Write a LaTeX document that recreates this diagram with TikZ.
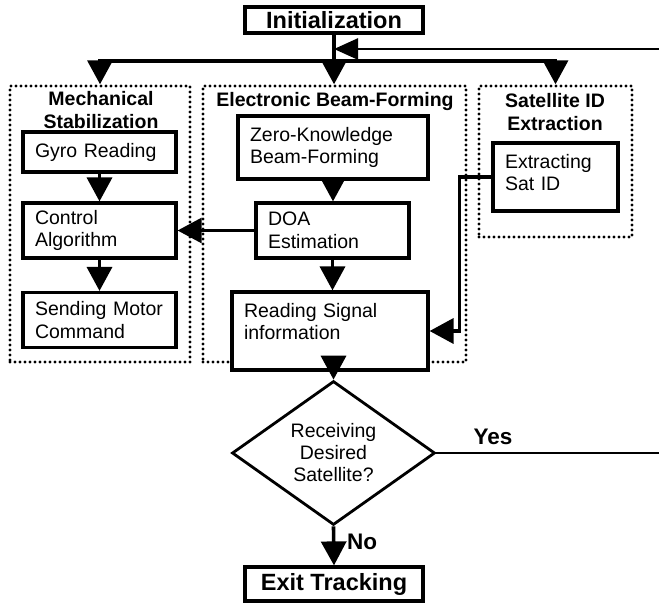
\documentclass[tikz,border=0pt]{standalone}
\usepackage{fontspec}
\setmainfont{Liberation Sans}
\usetikzlibrary{arrows.meta,shapes.geometric}
\newcommand{\lowdepth}[1]{\rule[-#1]{0pt}{#1}}
\begin{document}
\begin{tikzpicture}[x=1pt,y=-1pt,
  procbox/.style={draw,fill=white,line width=3.2pt,align=left,inner xsep=12pt,inner ysep=2pt,font=\fontsize{19.5}{22.5}\selectfont},
  termbox/.style={draw,fill=white,line width=3.2pt,inner sep=0pt,font=\bfseries\fontsize{23.5}{26}\selectfont},
  groupbox/.style={draw,line width=3.4pt,line cap=round,dash pattern=on 0pt off 5pt,inner sep=0pt},
  grouptitle/.style={align=center,font=\bfseries\fontsize{19.5}{23}\selectfont,inner sep=0pt},
  thickline/.style={line width=3.6pt},
  thinline/.style={line width=2.6pt},
  tri/.style={-{Triangle[length=24pt,width=25pt]}},
  decision/.style={diamond,draw,line width=2.8pt,align=center,inner sep=0pt,minimum width=203pt,minimum height=138pt,font=\fontsize{19.5}{22}\selectfont},
  lab/.style={font=\bfseries\fontsize{22.5}{25}\selectfont,inner sep=0pt}
]
\useasboundingbox (0,0) rectangle (659,603);

% groups
\node[groupbox,minimum width=180pt,minimum height=276pt] (mech) at (100,224) {};
\node[groupbox,minimum width=263pt,minimum height=276pt] (elec) at (334.5,224) {};
\node[groupbox,minimum width=153pt,minimum height=151pt] (satg) at (555.5,161.5) {};

\node[grouptitle] (mtitle) at (101,110) {Mechanical\\Stabilization};
\node[grouptitle] (etitle) at (335,101) {Electronic Beam-Forming};
\node[grouptitle] (stitle) at (555,112) {Satellite ID\\Extraction};

% terminals
\node[termbox,minimum width=178pt,minimum height=26pt] (init) at (334,20) {Initialization};
\node[termbox,minimum width=178pt,minimum height=34pt] (exit) at (334,584) {Exit Tracking};

% process boxes
\node[procbox,text width=129pt,minimum height=40pt] (gyro) at (99.5,152) {Gyro Reading};
\node[procbox,text width=129pt,minimum height=55pt] (ctrl) at (99.5,230.5) {Control\\Algorithm};
\node[procbox,text width=129pt,minimum height=55pt] (send) at (99.5,320) {Sending Motor\\Command};
\node[procbox,text width=166pt,minimum height=63pt] (zero) at (333,147.5) {Zero-Knowledge\\Beam-Forming};
\node[procbox,text width=129pt,minimum height=55pt] (doa) at (332.5,230.5) {DOA\\Estimation};
\node[procbox,text width=172pt,minimum height=78pt] (read) at (330,331) {Reading Signal\\information\lowdepth{19pt}};
\node[procbox,text width=101pt,minimum height=68pt] (satid) at (555.5,177) {Extracting\\Sat ID\lowdepth{9pt}};

\node[decision] (dec) at (333.5,453) {Receiving\\Desired\\Satellite?};

% connectors
\coordinate (j) at (334,61);
\coordinate (fb) at (659,49);
\draw[thickline,tri] (init.south) -- (init.south |- elec.north);
\draw[thickline,tri] (j) -| (mech.north);
\draw[thickline,tri] (j) -| (satg.north);
\draw[thinline,-{Triangle[length=24pt,width=21pt]}] (fb) -- (fb -| init.south);

\draw[thickline,tri] (gyro.south) -- (ctrl.north);
\draw[thickline,tri] (ctrl.south) -- (send.north);
\draw[thickline,tri] (zero.south) -- (zero.south |- doa.north);
\draw[thinline,tri] (doa.west) -- (ctrl.east);
\draw[thickline,tri] (doa.south) -- (doa.south |- read.north);
\draw[thickline,tri] (satid.west) -- ++(-32,0) |- (read.east);
\draw[thickline,tri] (read.south -| dec.north) -- (dec.north);
\draw[thinline] (dec.east) -- (dec.east -| fb);
\node[lab] (yes) at (493,437) {Yes};
\draw[thickline,tri] (dec.south) -- (exit.north);
\node[lab,anchor=west] (no) at (347,542) {No};
\end{tikzpicture}
\end{document}
